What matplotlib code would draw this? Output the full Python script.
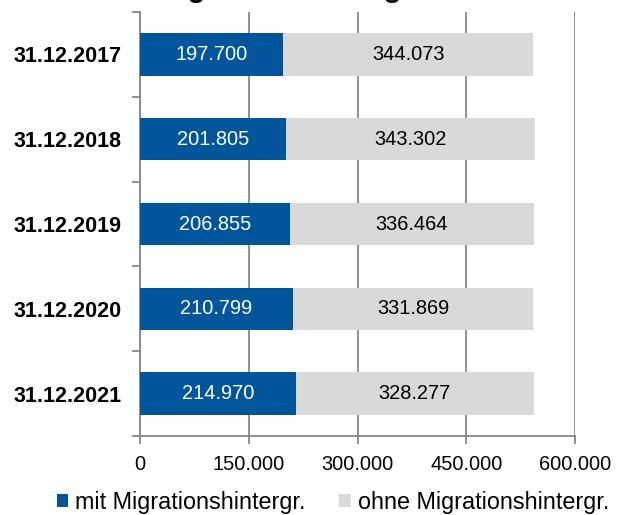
import matplotlib
matplotlib.use("Agg")
import matplotlib.pyplot as plt
import numpy as np

plt.rcParams['font.family'] = ['Liberation Sans', 'DejaVu Sans']

# Daten
stichtage = ["31.12.2017", "31.12.2018", "31.12.2019", "31.12.2020", "31.12.2021"]
mit_mh = [197700, 201805, 206855, 210799, 214970]
ohne_mh = [344073, 343302, 336464, 331869, 328277]
x_ticks = [0, 150000, 300000, 450000, 600000]
x_labels = ["0", "150.000", "300.000", "450.000", "600.000"]
serien = ["mit Migrationshintergr.", "ohne Migrationshintergr."]

blau = "#00559B"
grau = "#D9D9D9"
linie = "#878787"


def fmt(v):
    return "{:,}".format(v).replace(",", ".")


fig = plt.figure(figsize=(6.24, 5.15), dpi=100)
ax = fig.add_axes([140/624, 1-436/515, 435/624, 424/515])

y = np.arange(len(stichtage))
b1 = ax.barh(y, mit_mh, height=0.5, color=blau, label=serien[0], zorder=3)
b2 = ax.barh(y, ohne_mh, left=mit_mh, height=0.5, color=grau, label=serien[1], zorder=3)

# Beschriftungen in den Balken
for i in range(len(stichtage)):
    ax.text(mit_mh[i]/2, y[i], fmt(mit_mh[i]), color="white", ha="center",
            va="center", fontsize=14.4, zorder=4)
    ax.text(mit_mh[i] + ohne_mh[i]/2, y[i], fmt(ohne_mh[i]), color="black",
            ha="center", va="center", fontsize=14.4, zorder=4)

ax.set_xlim(0, 600000)
ax.set_ylim(len(stichtage)-0.5, -0.5)

# Achsen
ax.set_xticks(x_ticks)
ax.set_xticklabels(x_labels, fontsize=14.4)
ax.xaxis.grid(True, color=linie, linewidth=1.3, zorder=1)
ax.tick_params(axis="x", length=5.5, width=1.3, color=linie, pad=8)

ax.set_yticks(y)
ax.set_yticklabels(stichtage, fontsize=15.5, fontweight="bold")
ax.set_yticks(np.arange(len(stichtage)+1) - 0.5, minor=True)
ax.tick_params(axis="y", which="major", length=0, pad=13)
ax.tick_params(axis="y", which="minor", length=5.5, width=1.3, color=linie)

for s in ["top", "right"]:
    ax.spines[s].set_visible(False)
for s in ["left", "bottom"]:
    ax.spines[s].set_color(linie)
    ax.spines[s].set_linewidth(1.3)

# Titel (oben abgeschnitten)
fig.text(0.497, 1 + 3/515, "Migrationshintergrund", ha="center", va="baseline",
         fontsize=21, fontweight="bold")

fig.legend(handles=[b1, b2], labels=serien, loc="center", ncol=2,
           bbox_to_anchor=(333/624, 1-502/515), frameon=False, fontsize=16.8,
           handlelength=0.5, handleheight=0.5, handletextpad=0.3,
           columnspacing=1.45, borderpad=0)

fig.savefig("out.png", dpi=100)
